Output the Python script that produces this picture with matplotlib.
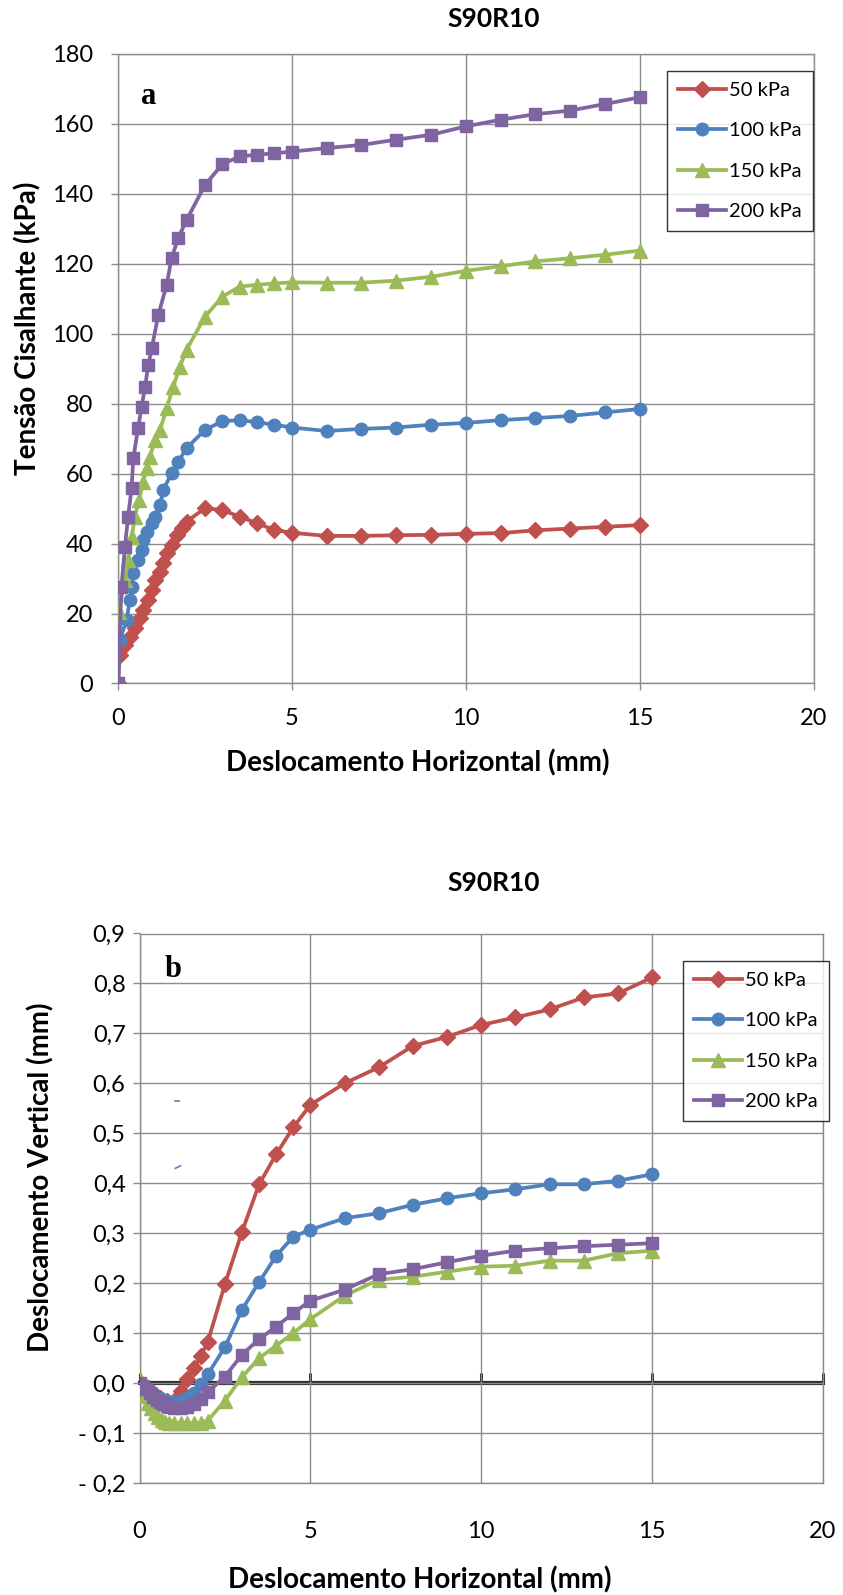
import matplotlib
matplotlib.use("Agg")
import matplotlib.pyplot as plt
from matplotlib.ticker import FuncFormatter, MultipleLocator

plt.rcParams['font.family'] = ['Lato', 'DejaVu Sans']

# ---------------- data ----------------
title = "S90R10"
series_labels = ["50 kPa", "100 kPa", "150 kPa", "200 kPa"]
colors = ["#C0504D", "#4F81BD", "#9BBB59", "#8064A2"]
markers = ["D", "o", "^", "s"]

# (a) shear stress vs horizontal displacement
xa_50 = [0, 0.05, 0.2, 0.34, 0.49, 0.63, 0.73, 0.87, 0.97, 1.06, 1.21, 1.3, 1.4, 1.54, 1.69, 1.83, 1.97,
         2.5, 3, 3.5, 4, 4.5, 5, 6, 7, 8, 9, 10, 11, 12, 13, 14, 15]
ya_50 = [0, 8.2, 11.0, 13.4, 15.8, 18.6, 21.0, 23.9, 26.7, 29.6, 32.0, 34.4, 37.2, 39.6, 42.5, 44.4, 46.3,
         50.1, 49.6, 47.7, 45.8, 43.9, 43.1, 42.2, 42.2, 42.4, 42.5, 42.8, 43.0, 43.8, 44.3, 44.8, 45.3]
xa_100 = [0, 0.05, 0.25, 0.34, 0.39, 0.44, 0.58, 0.68, 0.73, 0.82, 0.97, 1.06, 1.21, 1.3, 1.54, 1.73, 1.97,
          2.5, 3, 3.5, 4, 4.5, 5, 6, 7, 8, 9, 10, 11, 12, 13, 14, 15]
ya_100 = [0, 12.4, 18.2, 23.9, 27.7, 31.5, 35.3, 38.2, 41.0, 43.4, 45.8, 47.7, 51.0, 55.3, 60.1, 63.4, 67.3,
          72.5, 75.0, 75.3, 74.7, 74.0, 73.2, 72.2, 72.8, 73.2, 74.0, 74.5, 75.3, 75.9, 76.5, 77.5, 78.5]
xa_150 = [0, 0.02, 0.2, 0.29, 0.39, 0.49, 0.6, 0.73, 0.82, 0.92, 1.06, 1.21, 1.4, 1.59, 1.78, 1.97,
          2.5, 3, 3.5, 4, 4.5, 5, 6, 7, 8, 9, 10, 11, 12, 13, 14, 15]
ya_150 = [0, 20.5, 29.6, 35.3, 42.0, 47.7, 52.5, 57.7, 61.5, 64.9, 69.6, 72.5, 78.7, 84.9, 90.6, 95.4,
          104.9, 110.6, 113.5, 114.0, 114.4, 114.7, 114.6, 114.6, 115.2, 116.3, 118.0, 119.3, 120.7, 121.6, 122.6, 123.8]
xa_200 = [0, 0.1, 0.2, 0.29, 0.39, 0.44, 0.58, 0.68, 0.78, 0.87, 0.97, 1.16, 1.4, 1.54, 1.73, 1.97,
          2.5, 3, 3.5, 4, 4.5, 5, 6, 7, 8, 9, 10, 11, 12, 13, 14, 15]
ya_200 = [0, 27.7, 39.1, 47.7, 55.8, 64.4, 73.2, 79.2, 84.9, 91.1, 95.8, 105.4, 114.0, 121.6, 127.3, 132.5,
          142.5, 148.5, 150.7, 151.2, 151.6, 152.1, 153.1, 154.0, 155.5, 156.9, 159.3, 161.2, 162.8, 163.8, 165.7, 167.6]

# (b) vertical displacement vs horizontal displacement
xb_50 = [0, 0.2, 0.4, 0.6, 0.8, 1.0, 1.2, 1.4, 1.6, 1.8, 2.0, 2.5, 3, 3.5, 4, 4.5, 5, 6, 7, 8, 9, 10, 11, 12, 13, 14, 15]
yb_50 = [0, -0.01, -0.02, -0.03, -0.035, -0.035, -0.015, 0.008, 0.03, 0.055, 0.083, 0.198, 0.303, 0.398, 0.458,
         0.512, 0.557, 0.600, 0.632, 0.675, 0.693, 0.717, 0.732, 0.748, 0.772, 0.780, 0.812]
xb_100 = [0, 0.2, 0.4, 0.6, 0.8, 1.0, 1.2, 1.4, 1.6, 1.8, 2.0, 2.5, 3, 3.5, 4, 4.5, 5, 6, 7, 8, 9, 10, 11, 12, 13, 14, 15]
yb_100 = [0, -0.01, -0.02, -0.03, -0.035, -0.037, -0.035, -0.03, -0.02, -0.002, 0.018, 0.072, 0.147, 0.202, 0.255,
          0.293, 0.307, 0.330, 0.340, 0.357, 0.370, 0.380, 0.388, 0.398, 0.398, 0.405, 0.418]
xb_150 = [0, 0.05, 0.15, 0.25, 0.35, 0.45, 0.55, 0.65, 0.75, 0.85, 1.0, 1.2, 1.4, 1.6, 1.8, 2.0, 2.5, 3, 3.5, 4,
          4.5, 5, 6, 7, 8, 9, 10, 11, 12, 13, 14, 15]
yb_150 = [0.008, -0.01, -0.025, -0.04, -0.05, -0.06, -0.068, -0.073, -0.077, -0.08, -0.08, -0.08, -0.08, -0.08,
          -0.08, -0.075, -0.035, 0.012, 0.05, 0.075, 0.1, 0.128, 0.175, 0.207, 0.213, 0.223, 0.233, 0.235, 0.245,
          0.245, 0.26, 0.265]
xb_200 = [0, 0.1, 0.2, 0.3, 0.4, 0.5, 0.6, 0.7, 0.8, 0.9, 1.0, 1.2, 1.4, 1.6, 1.8, 2.0, 2.5, 3, 3.5, 4, 4.5, 5,
          6, 7, 8, 9, 10, 11, 12, 13, 14, 15]
yb_200 = [0, -0.005, -0.012, -0.02, -0.027, -0.033, -0.038, -0.042, -0.046, -0.048, -0.05, -0.05, -0.048, -0.042,
          -0.032, -0.018, 0.013, 0.057, 0.088, 0.113, 0.14, 0.165, 0.187, 0.218, 0.228, 0.242, 0.255, 0.265, 0.27,
          0.274, 0.277, 0.28]

# two stray dashes visible in chart (b)
stray_x = [[1.05, 1.15], [1.05, 1.2]]
stray_y = [[0.565, 0.565], [0.430, 0.435]]

xlabel = "Deslocamento Horizontal (mm)"
ylabel_a = "Tensão Cisalhante (kPa)"
ylabel_b = "Deslocamento Vertical (mm)"

# ---------------- figure ----------------
W, H = 843, 1595
fig = plt.figure(figsize=(W / 100, H / 100), dpi=100)

def fr(l, t, r, b):
    return [l / W, 1 - b / H, (r - l) / W, (b - t) / H]

grid_c = "#8C8C8C"
ms = {"D": 8, "o": 9, "^": 10, "s": 8}
TICK_FS = 17
LABEL_FS = 20
TITLE_FS = 19
LEG_FS = 14.5

def draw_series(ax, xs, ys):
    for x, y, c, m, lab in zip(xs, ys, colors, markers, series_labels):
        ax.plot(x, y, color=c, lw=2.7, marker=m, ms=ms[m], mec=c, mfc=c, label=lab, zorder=3)

def style_axes(ax):
    for s in ax.spines.values():
        s.set_color(grid_c)
        s.set_linewidth(1.0)
    ax.grid(True, color=grid_c, lw=1.0)
    ax.set_axisbelow(True)
    ax.tick_params(axis='both', colors=grid_c, labelcolor="black", labelsize=TICK_FS, length=5, width=1)

def make_legend(ax, left, top):
    lg = ax.legend(loc='upper left', bbox_to_anchor=(left / W, 1 - top / H), bbox_transform=fig.transFigure,
                   borderaxespad=0, fontsize=LEG_FS, frameon=True, fancybox=False, labelspacing=1.15,
                   handlelength=2.4, handletextpad=0.15, borderpad=0.55)
    lg.get_frame().set_edgecolor("black")
    lg.get_frame().set_linewidth(1.0)
    return lg

# ---- chart (a)
ax1 = fig.add_axes(fr(118, 54, 813.5, 683.5))
draw_series(ax1, [xa_50, xa_100, xa_150, xa_200], [ya_50, ya_100, ya_150, ya_200])
ax1.set_xlim(0, 20)
ax1.set_ylim(0, 180)
ax1.xaxis.set_major_locator(MultipleLocator(5))
ax1.yaxis.set_major_locator(MultipleLocator(20))
style_axes(ax1)
ax1.tick_params(axis='x', pad=13)
ax1.tick_params(axis='y', pad=13)
ax1.set_xlabel(xlabel, fontsize=LABEL_FS, fontweight='bold')
ax1.xaxis.label.set_va('center')
ax1.xaxis.set_label_coords(0.431, -0.126)
ax1.set_ylabel(ylabel_a, fontsize=LABEL_FS, fontweight='bold')
ax1.yaxis.label.set_va('center')
ax1.yaxis.set_label_coords(-0.130, 0.564)
fig.text(494 / W, 1 - 19 / H, title, fontsize=TITLE_FS, fontweight='bold', ha='center', va='center')
ax1.text(0.044, 0.932, "a", transform=ax1.transAxes, fontsize=22, fontweight='bold',
         family='Liberation Serif', ha='center', va='center')
make_legend(ax1, 667, 71)

# ---- chart (b)
ax2 = fig.add_axes(fr(139.5, 933.5, 823, 1483))
draw_series(ax2, [xb_50, xb_100, xb_150, xb_200], [yb_50, yb_100, yb_150, yb_200])
for sx, sy in zip(stray_x, stray_y):
    ax2.plot(sx, sy, color=colors[1], lw=1.2, zorder=3)
ax2.set_xlim(0, 20)
ax2.set_ylim(-0.2, 0.9)
ax2.xaxis.set_major_locator(MultipleLocator(5))
ax2.yaxis.set_major_locator(MultipleLocator(0.1))

def yfmt(v, pos):
    v = round(v, 1)
    if v < 0:
        return "- " + f"{abs(v):.1f}".replace(".", ",")
    return f"{v:.1f}".replace(".", ",")

ax2.yaxis.set_major_formatter(FuncFormatter(yfmt))
style_axes(ax2)
ax2.tick_params(axis='x', pad=27, length=0)
ax2.tick_params(axis='y', pad=5)
ax2.set_xlabel(xlabel, fontsize=LABEL_FS, fontweight='bold')
ax2.xaxis.label.set_va('center')
ax2.xaxis.set_label_coords(0.41, -0.176)
ax2.set_ylabel(ylabel_b, fontsize=LABEL_FS, fontweight='bold')
ax2.yaxis.label.set_va('center')
ax2.yaxis.set_label_coords(-0.144, 0.557)
fig.text(494 / W, 1 - 883 / H, title, fontsize=TITLE_FS, fontweight='bold', ha='center', va='center')
ax2.text(0.049, 0.935, "b", transform=ax2.transAxes, fontsize=22, fontweight='bold',
         family='Liberation Serif', ha='center', va='center')

# zero axis line with inward tick marks
ymin, ymax = ax2.get_ylim()
zero_loc = (0 - ymin) / (ymax - ymin)
sec = ax2.secondary_xaxis(zero_loc)
sec.xaxis.set_major_locator(MultipleLocator(5))
sec.spines['bottom'].set_color("#2b2b2b")
sec.spines['bottom'].set_linewidth(3.0)
sec.tick_params(axis='x', direction='in', length=7, width=2.2, color="#2b2b2b", labelbottom=False)

make_legend(ax2, 683, 961)

fig.savefig("out.png", dpi=100, facecolor="white")
